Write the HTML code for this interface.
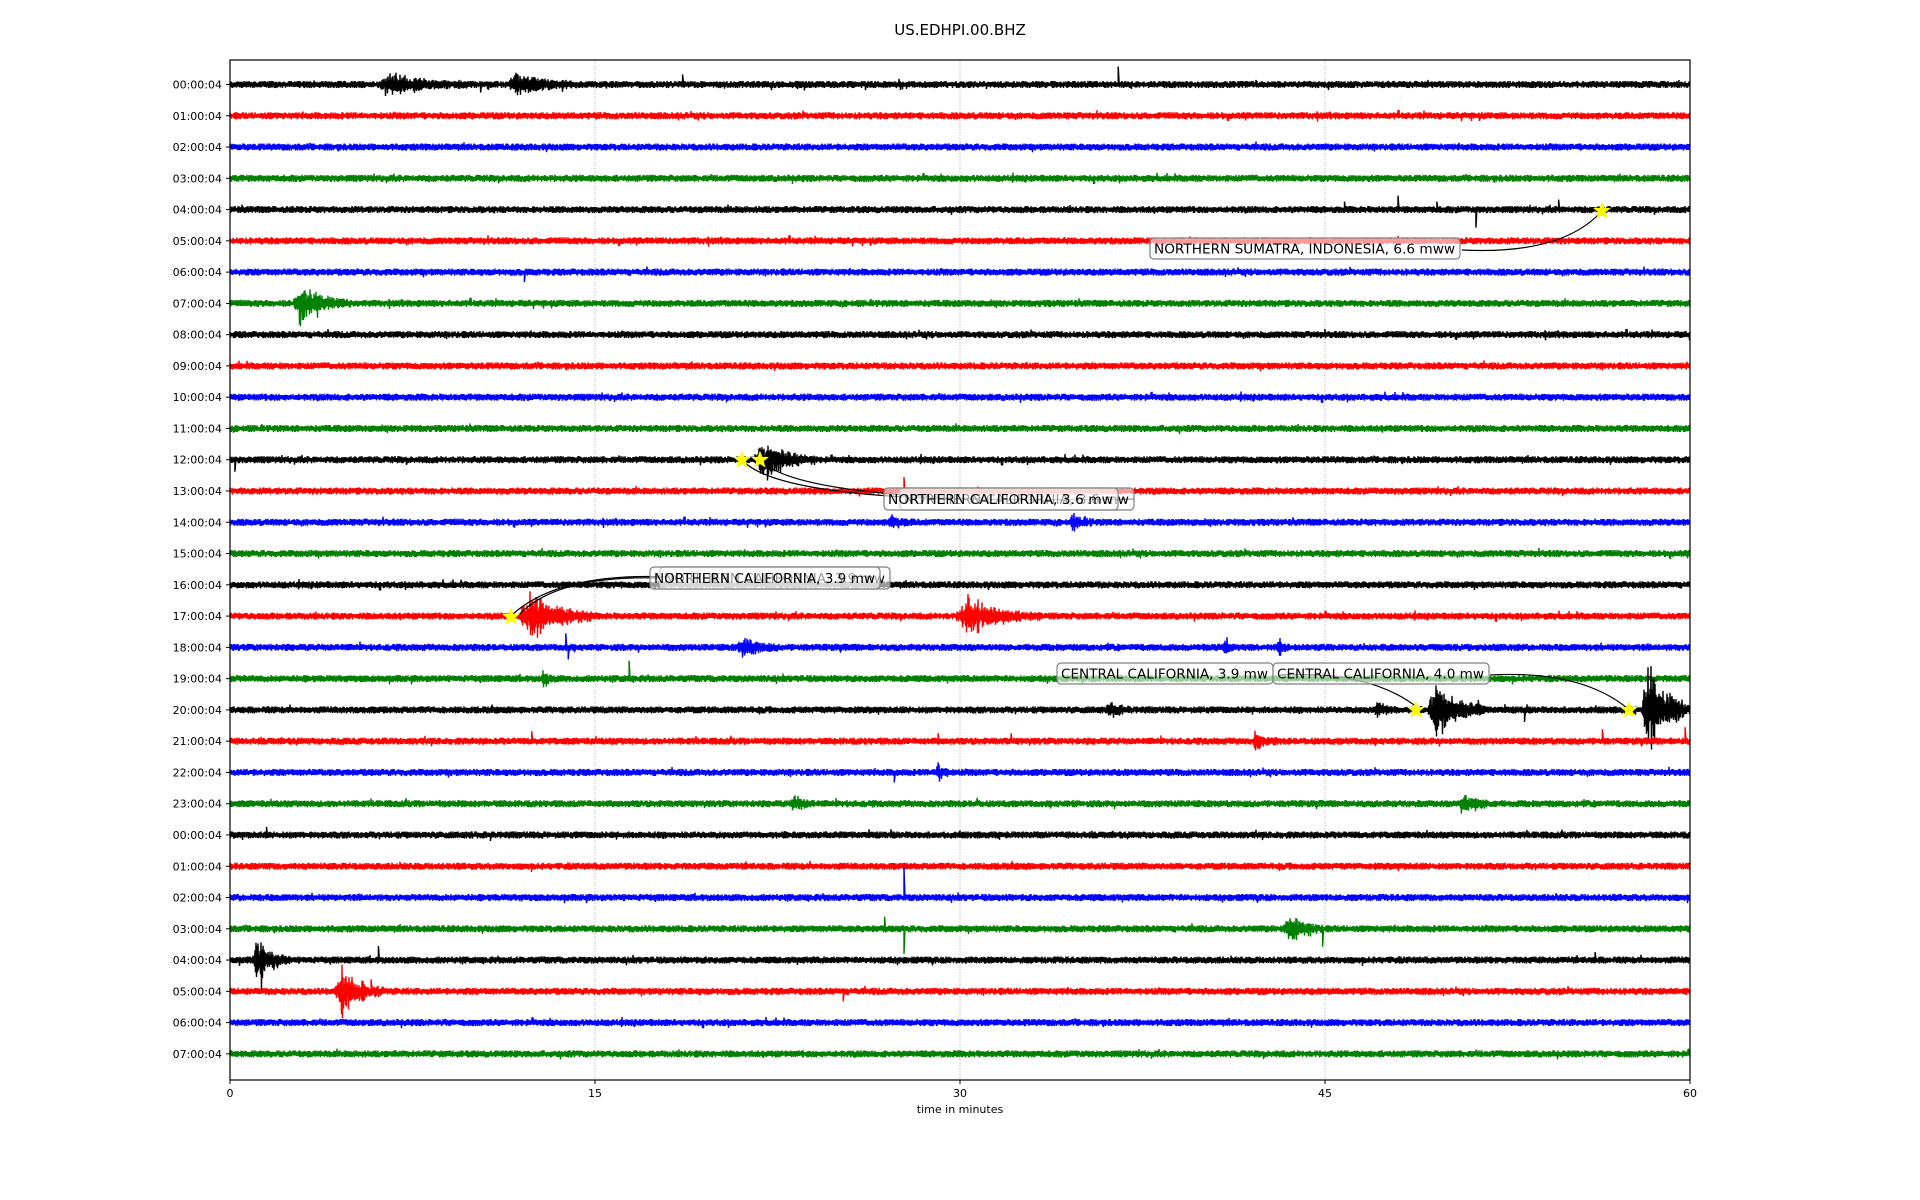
<!DOCTYPE html>
<html><head><meta charset="utf-8">
<style>
html,body{margin:0;padding:0;background:#fff;width:1920px;height:1200px;overflow:hidden}
svg{display:block}
text{font-family:"DejaVu Sans","Liberation Sans",sans-serif;fill:#000}
</style></head>
<body>
<svg id="s" width="1920" height="1200" viewBox="0 0 1920 1200" xmlns="http://www.w3.org/2000/svg">
<text x="960" y="35" font-size="15" text-anchor="middle">US.EDHPI.00.BHZ</text>
<g id="grid" stroke="#b0b0b0" stroke-width="0.8" stroke-dasharray="1.5,1.5">
<line x1="595" y1="60" x2="595" y2="1080"/>
<line x1="960" y1="60" x2="960" y2="1080"/>
<line x1="1325" y1="60" x2="1325" y2="1080"/>
</g>
<g id="traces"></g>
<g id="ann"></g>
<rect x="230" y="60" width="1460" height="1020" fill="none" stroke="#000" stroke-width="1.2"/>
<g id="ticks" stroke="#000" stroke-width="1"></g>
<g id="labels" font-size="11"></g>
<g font-size="11" text-anchor="middle">
<text x="230" y="1097">0</text><text x="595" y="1097">15</text><text x="960" y="1097">30</text><text x="1325" y="1097">45</text><text x="1690" y="1097">60</text>
<text x="960" y="1113">time in minutes</text>
</g>
</svg>
<script>
(function(){
var NS="http://www.w3.org/2000/svg";
var L=230,R=1690,W=1460;
var cols=["#000","#f00","#00f","#008000"];
var seed=12345;function rnd(){seed=(seed*1103515245+12345)&0x7fffffff;return seed/0x7fffffff;}
function Y(i){return 84.5+i*31.27;}
function X(m){return L+m/60*W;}
var labs=["00","01","02","03","04","05","06","07","08","09","10","11","12","13","14","15","16","17","18","19","20","21","22","23","00","01","02","03","04","05","06","07"];
var bursts=[[0,6.1,9.7,6],[0,11.4,14.2,6],[7,2.6,4.9,11],[12,21.5,24,13],[14,27,28,4],[14,34.5,35.5,4],
[17,11.9,14.8,17],[17,29.8,33.3,11],[18,20.8,22.5,6],[18,40.8,41.2,6],[18,43,43.6,6],[19,12.8,13.3,6],
[20,49.2,51.6,17],[20,58,60,32],[20,36,37,5],[22,29,29.6,7],[27,43.3,45,9],[28,0.9,2.4,13],[29,4.3,6.3,15],[20,47,48,4],[21,42,43,5],[23,23,24,5],[23,50.5,52,6]];
var spikes=[[0,18.6,-10],[0,23.6,6],[0,36.5,-18],[0,10.3,8],[4,45.8,-8],[4,48,-14],[4,49.6,-8],[4,51.2,18],[4,54.6,-10],[6,12.1,10],
[12,0.2,12],[12,21.8,14],[13,27.7,-14],[18,13.8,-14],[18,13.9,12],[19,16.4,-18],[19,13,8],[20,53.2,12],[20,51.3,-10],
[21,12.4,-10],[21,29.1,-8],[21,32.1,-8],[21,56.4,-12],[21,59.8,-14],[22,27.3,10],[22,29.1,-10],[23,30.7,-6],[23,50.6,10],[24,1.5,-8],[24,10.7,6],
[26,27.7,-30],[27,27.7,25],[27,26.9,-12],[27,44.9,18],[28,6.1,-14],[28,1.8,10],[28,56.1,-8],[29,25.2,10],[29,5.8,-12]];
var tg=document.getElementById("traces"),tk=document.getElementById("ticks"),lb=document.getElementById("labels");
for(var i=0;i<32;i++){
  var y0=Y(i);
  var env=new Float32Array(W+2);
  for(var x=0;x<=W+1;x++)env[x]=1;
  bursts.forEach(function(b){if(b[0]!==i)return;var a=X(b[1])-L,c=X(b[2])-L;
    for(var x=Math.max(0,Math.floor(a));x<=Math.min(W,Math.ceil(c));x++){var t=(x-a)/(c-a);var e=t<0.15?t/0.15:Math.exp(-(t-0.15)*3);env[x]=Math.max(env[x],1+b[3]/3*e*(0.5+rnd()));}});
  var d="M"+L+" "+y0.toFixed(1);var s=1;
  for(var x=0;x<=W;x+=0.5){var a=env[Math.floor(x)];s=-s;var v=(1.4+rnd()*2.2)*a;if(rnd()<0.01)v*=1.6;d+="L"+(L+x).toFixed(1)+" "+(y0+s*v).toFixed(1);}
  spikes.forEach(function(sp){if(sp[0]!==i)return;var sx=X(sp[1]);d+="M"+sx.toFixed(1)+" "+y0.toFixed(1)+"L"+sx.toFixed(1)+" "+(y0+sp[2]).toFixed(1)+"L"+(sx+1).toFixed(1)+" "+y0.toFixed(1);});
  var p=document.createElementNS(NS,"path");p.setAttribute("d",d);p.setAttribute("stroke",cols[i%4]);p.setAttribute("stroke-width","1.4");p.setAttribute("fill","none");
  tg.appendChild(p);
  var l=document.createElementNS(NS,"line");l.setAttribute("x1",226);l.setAttribute("x2",230);l.setAttribute("y1",y0);l.setAttribute("y2",y0);tk.appendChild(l);
  var t=document.createElementNS(NS,"text");t.setAttribute("x",222);t.setAttribute("y",y0+4);t.setAttribute("text-anchor","end");t.textContent=labs[i]+":00:04";lb.appendChild(t);
}
[230,595,960,1325,1690].forEach(function(x){var l=document.createElementNS(NS,"line");l.setAttribute("x1",x);l.setAttribute("x2",x);l.setAttribute("y1",1080);l.setAttribute("y2",1084);tk.appendChild(l);});
})();
</script>
<script>
(function(){
var NS="http://www.w3.org/2000/svg";var ag=document.getElementById("ann");
function star(cx,cy,r){var p=[];for(var k=0;k<10;k++){var rr=k%2?r*0.42:r;var a=-Math.PI/2+k*Math.PI/5;p.push((cx+rr*Math.cos(a)).toFixed(1)+","+(cy+rr*Math.sin(a)).toFixed(1));}
 var e=document.createElementNS(NS,"polygon");e.setAttribute("points",p.join(" "));e.setAttribute("fill","#ff0");e.setAttribute("stroke","#ff0");ag.appendChild(e);}
function path(d){var e=document.createElementNS(NS,"path");e.setAttribute("d",d);e.setAttribute("stroke","#000");e.setAttribute("stroke-width","1.2");e.setAttribute("fill","none");ag.appendChild(e);}
function box(x,y,w,h,txt){var r=document.createElementNS(NS,"rect");r.setAttribute("x",x);r.setAttribute("y",y);r.setAttribute("width",w);r.setAttribute("height",h);r.setAttribute("rx",4);r.setAttribute("fill","rgba(255,255,255,0.6)");r.setAttribute("stroke","#808080");r.setAttribute("stroke-width","1.2");ag.appendChild(r);
 var t=document.createElementNS(NS,"text");t.setAttribute("x",x+4);t.setAttribute("y",y+h/2+5);t.setAttribute("font-size","13.6");t.setAttribute("textLength",w-9);t.setAttribute("lengthAdjust","spacingAndGlyphs");t.textContent=txt;ag.appendChild(t);}
path("M1462 250 Q1560 255 1600 213");
path("M1084 499 Q790 505 744 462");
path("M1134 499 Q810 505 762 462");
path("M670 577 Q560 572 513 614");
path("M660 578 Q555 575 518 616");
path("M1280 675 Q1370 670 1418 708");
path("M1490 675 Q1580 670 1627 708");
box(1150,238,310,21,"NORTHERN SUMATRA, INDONESIA, 6.6 mww");
box(900,488,234,22,"NORTHERN CALIFORNIA, 3.6 mw");
box(884,488,234,22,"NORTHERN CALIFORNIA, 3.6 mw");
box(660,567,230,22,"NORTHERN CALIFORNIA, 3.9 mw");
box(650,567,230,22,"NORTHERN CALIFORNIA, 3.9 mw");
box(1057,663,216,21,"CENTRAL CALIFORNIA, 3.9 mw");
box(1273,663,216,21,"CENTRAL CALIFORNIA, 4.0 mw");
star(1602,211,8);star(742,460,8);star(760,460,8);star(511,617,8);star(1416,710,8);star(1629,710,8);
})();
</script>
</body></html>
